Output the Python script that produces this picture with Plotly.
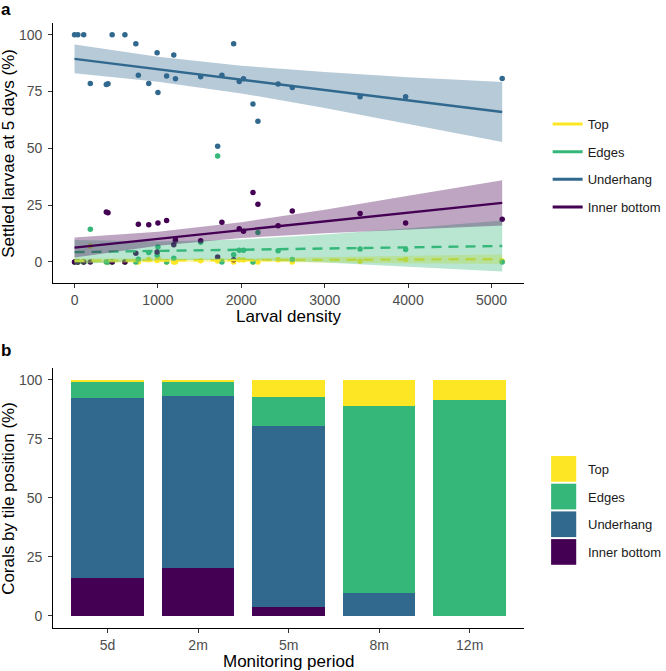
import plotly.graph_objects as go

# ---------------- Panel a data ----------------
density = [0, 40, 110, 189, 381, 401, 451, 604, 735, 765, 890, 990, 1000, 1104, 1190,
           1210, 1512, 1716, 1767, 1908, 1975, 2026, 2140, 2199, 2441, 2611, 3424, 3970, 5128]
underhang_pct = [100, 100, 100, 78.6, 78.1, 78.4, 100, 100, 96.1, 82.2, 78.6, 92.1, 74.6, 81.9, 91.1,
                 80.6, 81.5, 50.9, 82.2, 96.1, 79.4, 80.6, 69.5, 61.9, 78.3, 76.8, 72.7, 72.7, 80.8]
inner_pct = [0, 0, 0, 0, 22.0, 21.6, 0, 0, 3.8, 16.6, 16.3, 4.3, 17.1, 18.2, 7.5,
             9.6, 9.3, 2.1, 17.4, 0.9, 14.6, 13.5, 30.6, 25.4, 15.9, 22.4, 21.3, 17.1, 18.8]
edges_pct = [0, 0, 0, 14.4, 0, 0, 0, 0, 0, 1.2, 4.1, 3.0, 6.6, 0, 1.6,
             9.4, 8.7, 46.6, 0, 3.1, 5.1, 5.1, 0, 12.9, 4.9, 1.0, 5.7, 5.4, 0]
top_pct = [0, 0, 0, 7.0, 0, 0, 0, 0, 0.1, 0, 1.0, 0.6, 1.7, 0, 0,
           0, 0.5, 0.4, 0.4, 0, 0.9, 0.8, 0, 0, 0.9, 0, 0.3, 1.0, 0.4]

# fitted trend lines and confidence bands
fit_x = [0, 1000, 2000, 3000, 4000, 5128]
top_fit = [0.5, 0.65, 0.8, 0.95, 1.05, 1.2]
top_hw = [1.1, 0.8, 0.85, 1.15, 1.6, 2.1]
edges_fit = [4.3, 4.83, 5.35, 5.88, 6.41, 7.0]
edges_hw = [5.3, 4.1, 4.5, 6.2, 8.4, 11.2]
under_fit = [89.4, 84.8, 80.3, 75.7, 71.1, 66.0]
under_hw = [6.35, 5.5, 6.1, 7.9, 10.2, 13.2]
inner_fit = [6.3, 10.15, 14.0, 17.8, 21.7, 26.0]
inner_hw = [4.4, 3.1, 3.5, 5.2, 7.4, 10.0]

x_ticks_a = [0, 1000, 2000, 3000, 4000, 5000]
y_ticks = [0, 25, 50, 75, 100]

# ---------------- Panel b data ----------------
periods = ["5d", "2m", "5m", "8m", "12m"]
bar_inner = [15.9, 20.5, 3.7, 0, 0]
bar_under = [76.2, 72.5, 76.9, 9.7, 0]
bar_edges = [6.8, 6.3, 12.1, 79.1, 91.3]
bar_top = [1.1, 0.7, 7.3, 11.2, 8.7]

groups = ["Top", "Edges", "Underhang", "Inner bottom"]
colors = {"Top": "#FDE725", "Edges": "#35B779", "Underhang": "#31688E", "Inner bottom": "#440154"}
bands = {"Top": "rgba(253,231,37,0.35)", "Edges": "rgba(53,183,121,0.35)",
         "Underhang": "rgba(49,104,142,0.35)", "Inner bottom": "rgba(68,1,84,0.35)"}
dashes = {"Top": "10px,7px", "Edges": "10px,7px", "Underhang": "solid", "Inner bottom": "solid"}
pts = {"Top": top_pct, "Edges": edges_pct, "Underhang": underhang_pct, "Inner bottom": inner_pct}
fits = {"Top": (top_fit, top_hw), "Edges": (edges_fit, edges_hw),
        "Underhang": (under_fit, under_hw), "Inner bottom": (inner_fit, inner_hw)}

FONT = "Liberation Sans, Arial, sans-serif"
W, H = 666, 671

fig = go.Figure()

# points
for g in groups:
    fig.add_trace(go.Scatter(x=density, y=pts[g], mode="markers", xaxis="x", yaxis="y",
                             marker=dict(color=colors[g], size=5.5), showlegend=False,
                             hoverinfo="skip"))

# bands + lines
for g in groups:
    f, hw = fits[g]
    lo = [a - b for a, b in zip(f, hw)]
    hi = [a + b for a, b in zip(f, hw)]
    fig.add_trace(go.Scatter(x=fit_x + fit_x[::-1], y=hi + lo[::-1], fill="toself",
                             fillcolor=bands[g], line=dict(width=0), mode="lines",
                             xaxis="x", yaxis="y", showlegend=False, hoverinfo="skip"))
    fig.add_trace(go.Scatter(x=fit_x, y=f, mode="lines", xaxis="x", yaxis="y",
                             line=dict(color=colors[g], width=2.4, dash=dashes[g]),
                             showlegend=False, hoverinfo="skip"))

# legend entries for panel a
for g in groups:
    fig.add_trace(go.Scatter(x=[None], y=[None], mode="lines", name=g, legendgroup=g,
                             line=dict(color=colors[g], width=3), xaxis="x", yaxis="y",
                             legend="legend"))

# stacked bars (panel b)
for g, vals in [("Inner bottom", bar_inner), ("Underhang", bar_under),
                ("Edges", bar_edges), ("Top", bar_top)]:
    fig.add_trace(go.Bar(x=periods, y=vals, name=g, marker=dict(color=colors[g], line=dict(width=0)),
                         width=0.8, xaxis="x2", yaxis="y2", showlegend=False))

axis_common = dict(showline=True, linecolor="black", linewidth=1.1, ticks="outside",
                   ticklen=4, tickwidth=1.1, tickcolor="#333333", showgrid=False,
                   zeroline=False, tickfont=dict(family=FONT, size=14, color="#4D4D4D"),
                   fixedrange=True)

fig.update_layout(
    width=W, height=H, margin=dict(l=0, r=0, t=0, b=0),
    paper_bgcolor="white", plot_bgcolor="white", barmode="stack", bargap=0.2,
    font=dict(family=FONT),
    xaxis=dict(domain=[54 / W, 531.7 / W], range=[-256, 5386], tickvals=x_ticks_a,
               anchor="y", ticklabelstandoff=0, **axis_common),
    yaxis=dict(domain=[1 - 283 / H, 1 - 23 / H], range=[-9.3, 105.2], tickvals=y_ticks,
               anchor="x", ticklabelstandoff=3, **axis_common),
    xaxis2=dict(domain=[54 / W, 532 / W], type="category", range=[-0.6, 4.6],
                anchor="y2", ticklabelstandoff=0, **axis_common),
    yaxis2=dict(domain=[1 - 627.7 / H, 1 - 368 / H], range=[-5, 105], tickvals=y_ticks,
                anchor="x2", ticklabelstandoff=3, **axis_common),
    legend=dict(x=556 / W, y=1 - 109 / H, xanchor="left", yanchor="top",
                font=dict(family=FONT, size=13, color="#1A1A1A"), tracegroupgap=7.8,
                traceorder="grouped", bgcolor="rgba(0,0,0,0)", itemwidth=30),
)

ann = []
def txt(x, y, s, size, angle=0, bold=False, xanchor="center", color="black"):
    ann.append(dict(x=x / W, y=1 - y / H, xref="paper", yref="paper", text=f"<b>{s}</b>" if bold else s,
                    showarrow=False, textangle=angle, xanchor=xanchor, yanchor="middle",
                    font=dict(family=FONT, size=size, color=color)))

txt(6, 9.5, "a", 17, bold=True)
txt(6, 350, "b", 17, bold=True)
txt(9, 153, "Settled larvae at 5 days (%)", 17, angle=-90)
txt(292.8, 316.5, "Larval density", 17)
txt(9, 498, "Corals by tile position (%)", 17, angle=-90)
txt(293, 661, "Monitoring period", 17)

# panel b legend (keys + labels)
shapes = []
key_top = 456
for i, g in enumerate(groups):
    y0 = key_top + i * 27.7
    shapes.append(dict(type="rect", xref="paper", yref="paper", x0=559.5 / W, x1=585 / W,
                       y0=1 - (y0 + 25.7) / H, y1=1 - y0 / H, fillcolor=colors[g],
                       line=dict(width=0), layer="above"))
    txt(595, y0 + 13.5, g, 13, xanchor="left", color="#1A1A1A")

fig.update_layout(annotations=ann, shapes=shapes)

fig.write_html("out.html", config={"displayModeBar": False},
               post_script="document.body.style.margin='0';document.body.style.overflow='hidden';")
